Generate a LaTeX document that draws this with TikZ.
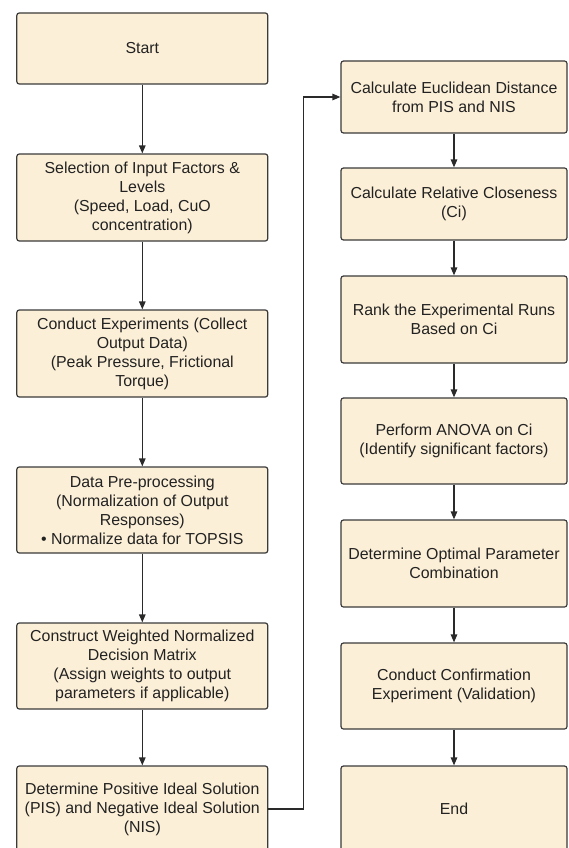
\documentclass[tikz,border=0pt]{standalone}
\usepackage{fontspec}
\setmainfont{Liberation Sans}
\usetikzlibrary{arrows.meta}

\begin{document}
\begin{tikzpicture}[x=1pt,y=-1pt,
    stepbox/.style={draw=boxLine, fill=boxFill, line width=1.2pt, rounded corners=2.5pt,
        align=center, inner sep=0pt, text=textColour,
        font=\fontsize{15.9}{19}\selectfont},
    leftbox/.style={stepbox, minimum width=251pt},
    rightbox/.style={stepbox, minimum width=226pt},
    flow/.style={draw=flowLine, line width=1.3pt, -{Triangle[length=8pt,width=6.5pt]}}]
    \definecolor{boxFill}{HTML}{FCEFD7}
    \definecolor{boxLine}{HTML}{3A3A3A}
    \definecolor{flowLine}{HTML}{2A2A2A}
    \definecolor{textColour}{HTML}{222222}
    \def\leftX{142.3}
    \def\rightX{454}

    % Page frame
    \useasboundingbox (0,0) rectangle (568,848);
    \clip (0,0) rectangle (568,848);

    % Left column
    \node[leftbox, minimum height=71pt] (start) at (\leftX,48.5) {Start};
    \node[leftbox, minimum height=87pt] (select) at (\leftX,197.5)
        {Selection of Input Factors \&\\ Levels\\ (Speed, Load, CuO\\ concentration)};
    \node[leftbox, minimum height=87pt] (conduct) at (\leftX,353.5)
        {Conduct Experiments (Collect\\ Output Data)\\ (Peak Pressure, Frictional\\ Torque)};
    \node[leftbox, minimum height=86pt] (prep) at (\leftX,510)
        {Data Pre-processing\\ (Normalization of Output\\ Responses)\\ \textbullet\ Normalize data for TOPSIS};
    \node[leftbox, minimum height=86pt] (weight) at (\leftX,666)
        {Construct Weighted Normalized\\ Decision Matrix\\ (Assign weights to output\\ parameters if applicable)};
    \node[leftbox, minimum height=86pt] (pis) at (\leftX,809)
        {Determine Positive Ideal Solution\\ (PIS) and Negative Ideal Solution\\ (NIS)};

    % Right column
    \node[rightbox, minimum height=72pt] (euclid) at (\rightX,97)
        {Calculate Euclidean Distance\\ from PIS and NIS};
    \node[rightbox, minimum height=72pt] (close) at (\rightX,204)
        {Calculate Relative Closeness\\ (Ci)};
    \node[rightbox, minimum height=87pt] (rank) at (\rightX,319.5)
        {Rank the Experimental Runs\\ Based on Ci};
    \node[rightbox, minimum height=86pt] (anova) at (\rightX,441)
        {Perform ANOVA on Ci\\ (Identify significant factors)};
    \node[rightbox, minimum height=87pt] (optimal) at (\rightX,563.5)
        {Determine Optimal Parameter\\ Combination};
    \node[rightbox, minimum height=86pt] (confirm) at (\rightX,686)
        {Conduct Confirmation\\ Experiment (Validation)};
    \node[rightbox, minimum height=86pt] (finish) at (\rightX,809) {End};

    % Arrows
    \foreach \a/\b in {start/select, select/conduct, conduct/prep, prep/weight, weight/pis,
        euclid/close, close/rank, rank/anova, anova/optimal, optimal/confirm, confirm/finish}
        \draw[flow] (\a) -- (\b);
    \draw[flow] (pis.east) -- ++(35,0) |- (euclid.west);

\end{tikzpicture}
\end{document}
